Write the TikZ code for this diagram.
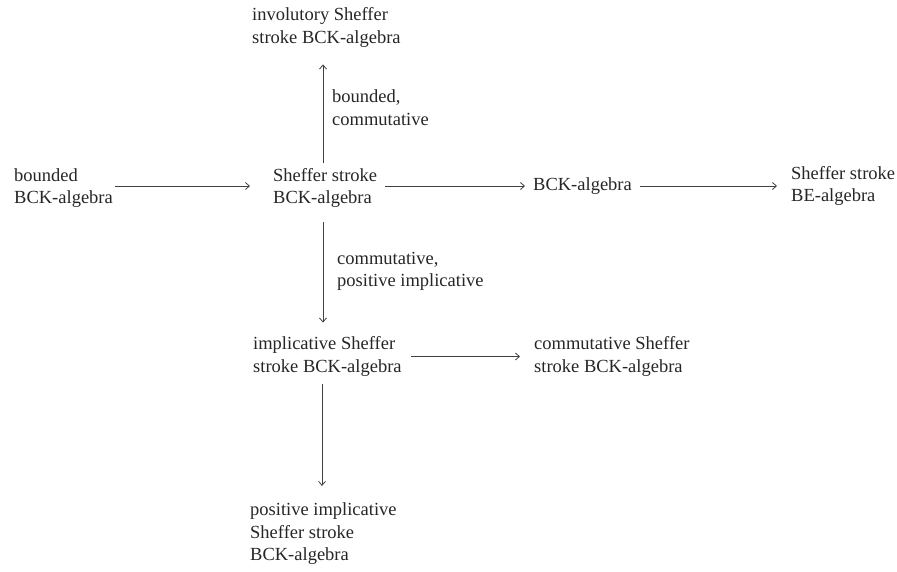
\documentclass[tikz,border=0pt]{standalone}
\usepackage{fontspec}
\setmainfont{Liberation Serif}
\usetikzlibrary{arrows.meta}
\begin{document}
\begin{tikzpicture}[x=1pt,y=-1pt,
  txt/.style={anchor=west,inner sep=0pt,align=left,font=\fontsize{18.5}{22.5}\selectfont,text=black!85},
  arr/.style={draw=black!75,line width=0.8pt,-{Straight Barb[length=4pt,width=7pt]}}]
\useasboundingbox (0,0) rectangle (897,571);
\node[txt] (invol) at (252,27.5) {involutory Sheffer\\stroke BCK-algebra};
\node[txt] (bounded) at (14,188) {bounded\\BCK-algebra};
\node[txt] (sheffer) at (273,188) {Sheffer stroke\\BCK-algebra};
\node[txt] (bck) at (533,186) {BCK-algebra};
\node[txt] (be) at (791,186) {Sheffer stroke\\BE-algebra};
\node[txt] (impl) at (253,356.5) {implicative Sheffer\\stroke BCK-algebra};
\node[txt] (comm) at (534,356.5) {commutative Sheffer\\stroke BCK-algebra};
\node[txt] (pos) at (250,534) {positive implicative\\Sheffer stroke\\BCK-algebra};
\node[txt] (lab1) at (332,107.5) {bounded,\\commutative};
\node[txt] (lab2) at (337,271.5) {commutative,\\positive implicative};
\coordinate (ax) at (323,0);
\coordinate (bx) at (322,0);
\coordinate (ay) at (0,186);
\draw[arr,shorten <=5pt,shorten >=17pt] (sheffer.north -| ax) -- (invol.south -| ax);
\draw[arr,shorten <=2pt,shorten >=23pt] (bounded.east |- ay) -- (sheffer.west |- ay);
\draw[arr,shorten <=8pt,shorten >=8pt] (sheffer.east |- ay) -- (bck.west |- ay);
\draw[arr,shorten <=8pt,shorten >=14pt] (bck.east |- ay) -- (be.west |- ay);
\draw[arr,shorten <=14pt,shorten >=14pt] (sheffer.south -| ax) -- (impl.north -| ax);
\draw[arr,shorten <=9.5pt,shorten >=14pt] (impl.east) -- (comm.west);
\draw[arr,shorten <=8pt,shorten >=17pt] (impl.south -| bx) -- (pos.north -| bx);
\end{tikzpicture}
\end{document}
